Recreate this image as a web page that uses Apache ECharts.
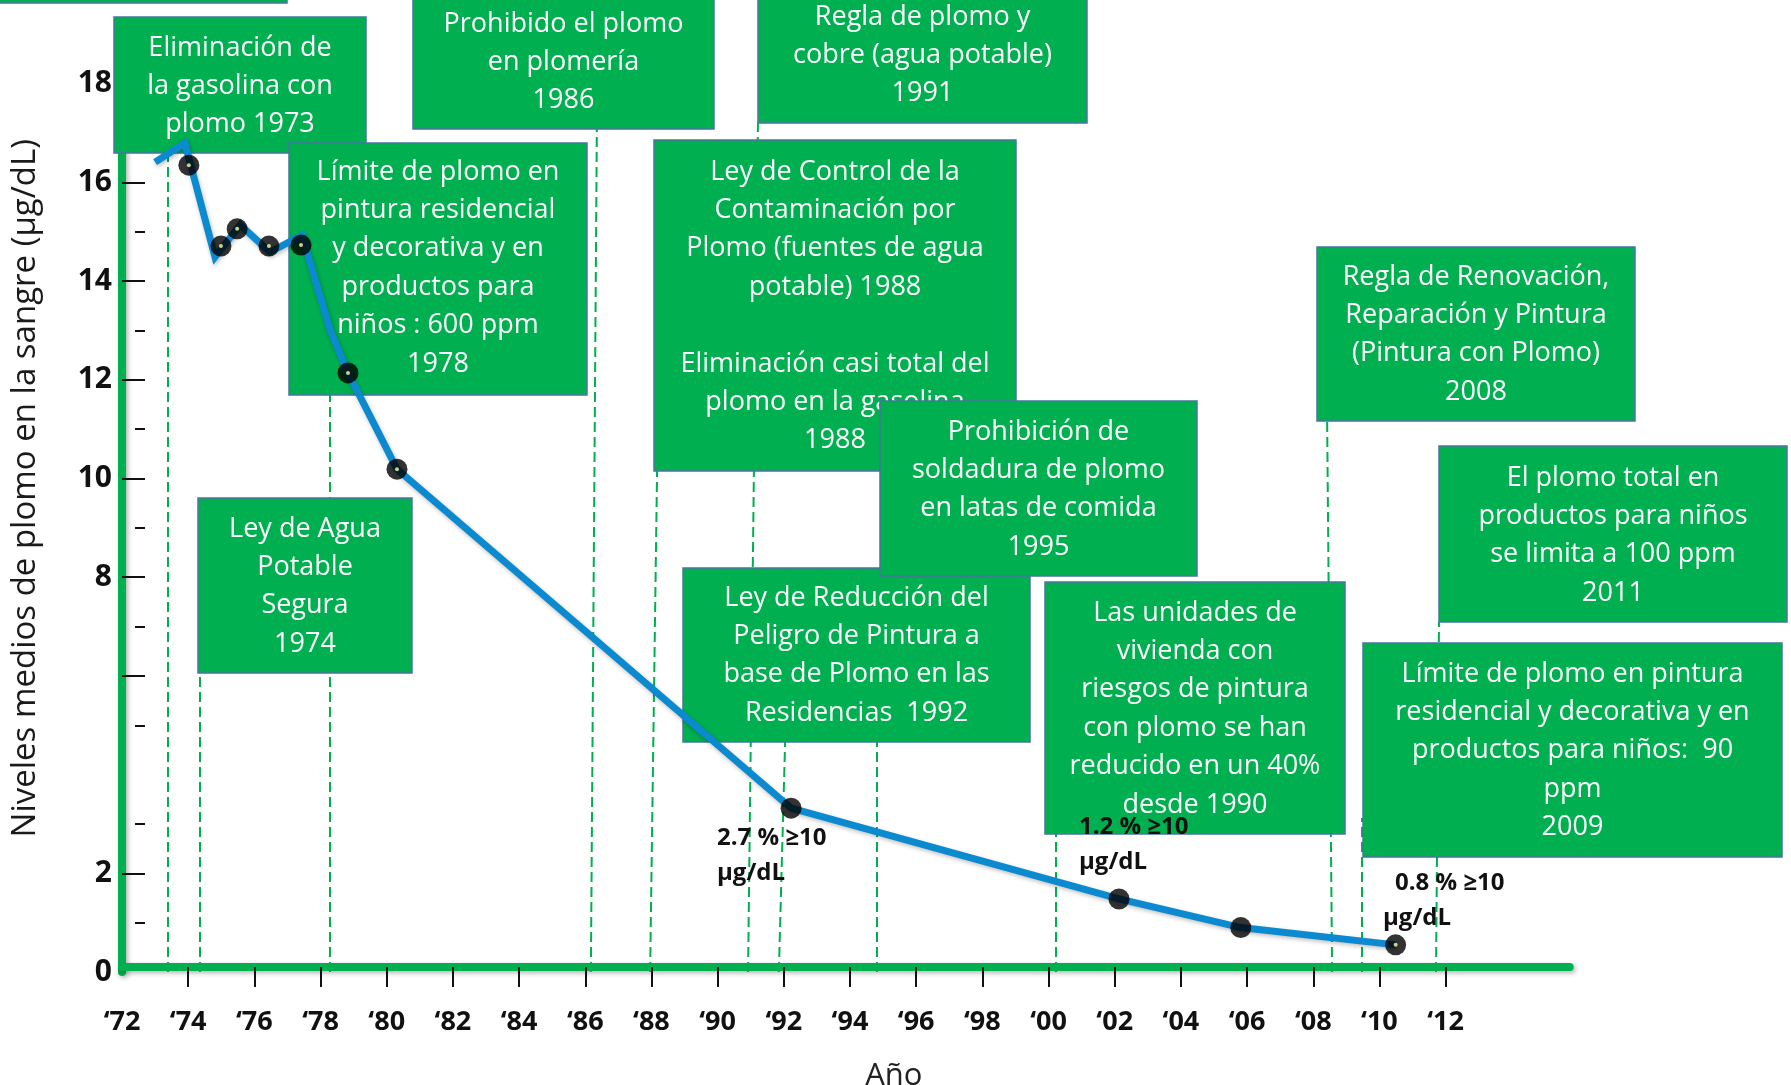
<!DOCTYPE html>
<html>
<head>
<meta charset="utf-8">
<script src="https://cdn.jsdelivr.net/npm/echarts@6.0.0/dist/echarts.min.js"></script>
<style>
html,body{margin:0;padding:0;background:#ffffff;}
#c{width:1791px;height:1085px;}
</style>
</head>
<body>
<div id="c"></div>
<script>
// ---------- data ----------
const lineYears  = [1973.00, 1973.90, 1974.81, 1975.57, 1976.47, 1977.44, 1978.29, 1978.83, 1980.31, 1992.22, 2002.13, 2005.81, 2010.49];
const lineValues = [16.41, 16.80, 14.49, 15.14, 14.59, 14.93, 13.01, 12.14, 10.19, 3.32, 1.48, 0.90, 0.55];

const dotYears  = [1974.02, 1974.99, 1975.48, 1976.44, 1977.41, 1978.83, 1980.31, 1992.22, 2002.13, 2005.81, 2010.49];
const dotValues = [16.35, 14.71, 15.06, 14.71, 14.73, 12.14, 10.19, 3.32, 1.48, 0.90, 0.55];
const dotHasCenter = [1, 1, 1, 1, 1, 1, 1, 0, 0, 0, 1];

// dashed event guide lines: bottom year, top year, top value
const dashBottomYears = [1973.39, 1974.36, 1978.29, 1986.17, 1987.96, 1990.92, 1991.85, 1994.82, 2000.23, 2008.57, 2009.47, 2011.71];
const dashTopYears    = [1973.39, 1974.36, 1978.29, 1986.35, 1988.17, 1991.22, 1992.04, 1994.82, 2000.23, 2008.42, 2009.47, 2011.80];
const dashTopValues   = [16.60, 6.06, 11.69, 17.10, 10.15, 17.22, 4.66, 8.02, 2.80, 11.17, 3.12, 7.09];

const xLabelYears = [1972,1974,1976,1978,1980,1982,1984,1986,1988,1990,1992,1994,1996,1998,2000,2002,2004,2006,2008,2010,2012];
const xTickYears  = [1974,1976,1978,1980,1982,1984,1986,1988,1990,1992,1994,1996,1998,2000,2002,2004,2006,2008,2010,2012];
const yLabelValues = [0,2,8,10,12,14,16,18];
const yMajorTicks  = [2,6,8,10,12,14,16,18];
const yMinorTicks  = [1,3,5,7,9,11,13,15,17];

const yAxisName = 'Niveles medios de plomo en la sangre (µg/dL)';
const xAxisName = 'Año';

// annotation boxes (text) and their layout
const boxTexts = [
  [],
  ['Eliminación de','la gasolina con','plomo 1973'],
  ['Prohibido el plomo','en plomería','1986'],
  ['Regla de plomo y','cobre (agua potable)','1991'],
  ['Límite de plomo en','pintura residencial','y decorativa y en','productos para','niños : 600 ppm','1978'],
  ['Ley de Agua','Potable','Segura','1974'],
  ['Ley de Control de la','Contaminación por','Plomo (fuentes de agua','potable) 1988','','Eliminación casi total del','plomo en la gasolina','1988'],
  ['Ley de Reducción del','Peligro de Pintura a','base de Plomo en las','Residencias  1992'],
  ['Prohibición de','soldadura de plomo','en latas de comida','1995'],
  ['Las unidades de','vivienda con','riesgos de pintura','con plomo se han','reducido en un 40%','desde 1990'],
  ['Regla de Renovación,','Reparación y Pintura','(Pintura con Plomo)','2008'],
  ['El plomo total en','productos para niños','se limita a 100 ppm','2011'],
  ['Límite de plomo en pintura','residencial y decorativa y en','productos para niños:  90','ppm','2009']
];
const boxLayout = [ // x, y, w, h, firstLineCenterY
  [-2, -40, 289, 43, 0],
  [114, 17, 252, 136, 48],
  [413, -10, 301, 139, 24],
  [758, -20, 329, 143, 17],
  [289, 143, 298, 252, 172],
  [198, 498, 214, 175, 529],
  [654, 140, 362, 331, 172],
  [683, 568, 347, 174, 598],
  [880, 401, 317, 175, 432],
  [1045, 582, 300, 252, 613],
  [1317, 247, 318, 174, 277],
  [1439, 446, 348, 176, 478],
  [1363, 643, 419, 214, 674]
];
const boxLineHeight = 38.4;

const noteTexts = ['2.7 % ≥10','µg/dL','1.2 % ≥10','µg/dL','0.8 % ≥10','µg/dL'];
const noteLayout = [[717,838],[717,873],[1079,827],[1079,862],[1395,883],[1383,918]];

// ---------- chart ----------
const GREEN = '#00B050';
const chart = echarts.init(document.getElementById('c'), null, {renderer:'canvas'});

const graphics = [];
boxTexts.forEach((lines, i) => {
  const [x, y, w, h, fy] = boxLayout[i];
  graphics.push({
    type: 'rect', z: 3, z2: i * 2, silent: true,
    shape: {x: x, y: y, width: w, height: h},
    style: {fill: GREEN, stroke: '#4a74a0', lineWidth: 1.5}
  });
  lines.forEach((t, k) => {
    if (!t) return;
    graphics.push({
      type: 'text', z: 3, z2: i * 2 + 1, silent: true,
      x: x + w / 2, y: fy + k * boxLineHeight,
      style: {text: t, fill: '#ffffff', font: '27px "Open Sans", sans-serif',
              align: 'center', verticalAlign: 'middle', textAlign: 'center', textVerticalAlign: 'middle'}
    });
  });
});
noteTexts.forEach((t, i) => {
  graphics.push({
    type: 'text', z: 20, silent: true,
    x: noteLayout[i][0], y: noteLayout[i][1],
    style: {text: t, fill: '#111111', font: 'bold 24px "Open Sans", sans-serif',
            align: 'left', verticalAlign: 'middle', textAlign: 'left', textVerticalAlign: 'middle'}
  });
});

const axisShadow = {shadowColor: 'rgba(0,0,0,0.30)', shadowBlur: 5, shadowOffsetX: 2, shadowOffsetY: 2};

const option = {
  animation: false,
  backgroundColor: '#ffffff',
  grid: {left: 122, right: 221.3, top: 24.5, bottom: 113, containLabel: false, outerBoundsMode: 'none'},
  xAxis: {
    type: 'value', min: 1972, max: 2015.75,
    offset: -5,
    axisLine: {show: true, onZero: false, lineStyle: Object.assign({color: GREEN, width: 8}, axisShadow)},
    axisTick: {show: true, inside: false, length: 20, customValues: xTickYears,
               lineStyle: {color: '#111111', width: 2}},
    axisLabel: {show: true, customValues: xLabelYears, margin: 42,
                formatter: v => '\u2018' + String(v).slice(2),
                color: '#111111', fontFamily: 'Open Sans', fontWeight: 'bold', fontSize: 27},
    splitLine: {show: false},
    name: xAxisName, nameLocation: 'middle', nameGap: 94,
    nameTextStyle: {color: '#222222', fontFamily: 'Open Sans', fontSize: 31, padding: [0, 0, 0, 96]}
  },
  yAxis: [
    {
      type: 'value', min: 0, max: 19.2,
      axisLine: {show: true, onZero: false, lineStyle: Object.assign({color: GREEN, width: 8}, axisShadow)},
      axisTick: {show: true, inside: true, length: 23, customValues: yMajorTicks,
                 lineStyle: {color: '#111111', width: 2}},
      axisLabel: {show: true, customValues: yLabelValues, margin: 10,
                  color: '#111111', fontFamily: 'Open Sans', fontWeight: 'bold', fontSize: 30},
      splitLine: {show: false},
      name: yAxisName, nameLocation: 'middle', nameGap: 80, nameRotate: 90,
      nameTextStyle: {color: '#1a1a1a', fontFamily: 'Open Sans', fontSize: 33, padding: [0, 0, 0, 20]}
    },
    {
      type: 'value', min: 0, max: 19.2, position: 'left', offset: -13,
      axisLine: {show: false, onZero: false},
      axisTick: {show: true, inside: true, length: 10, customValues: yMinorTicks,
                 lineStyle: {color: '#111111', width: 2}},
      axisLabel: {show: false},
      splitLine: {show: false}
    }
  ],
  graphic: {elements: graphics},
  series: [
    {
      type: 'line', name: 'guides', z: 1, data: [], symbol: 'none', silent: true,
      markLine: {
        z: 1, silent: true, symbol: ['none', 'none'], label: {show: false},
        lineStyle: {color: GREEN, type: [10, 5], width: 2},
        emphasis: {disabled: true},
        data: dashBottomYears.map((b, i) => [
          {coord: [b, 0]},
          {coord: [dashTopYears[i], dashTopValues[i]]}
        ])
      }
    },
    {
      type: 'line', name: 'nivel', z: 5, silent: true,
      data: lineYears.map((y, i) => [y, lineValues[i]]),
      symbol: 'none',
      lineStyle: {color: '#0b8ad0', width: 7, join: 'miter',
                  shadowColor: 'rgba(0,0,0,0.25)', shadowBlur: 4, shadowOffsetX: 1, shadowOffsetY: 2}
    },
    {
      type: 'scatter', name: 'puntos', z: 6, silent: true,
      data: dotYears.map((y, i) => [y, dotValues[i]]),
      symbol: 'circle', symbolSize: 21,
      itemStyle: {color: '#000000'}
    },
    {
      type: 'scatter', name: 'centros', z: 7, silent: true,
      data: dotYears.map((y, i) => [y, dotValues[i]]).filter((d, i) => dotHasCenter[i]),
      symbol: 'circle', symbolSize: 4,
      itemStyle: {color: '#fffca0'}
    }
  ]
};
chart.setOption(option);
</script>
</body>
</html>
